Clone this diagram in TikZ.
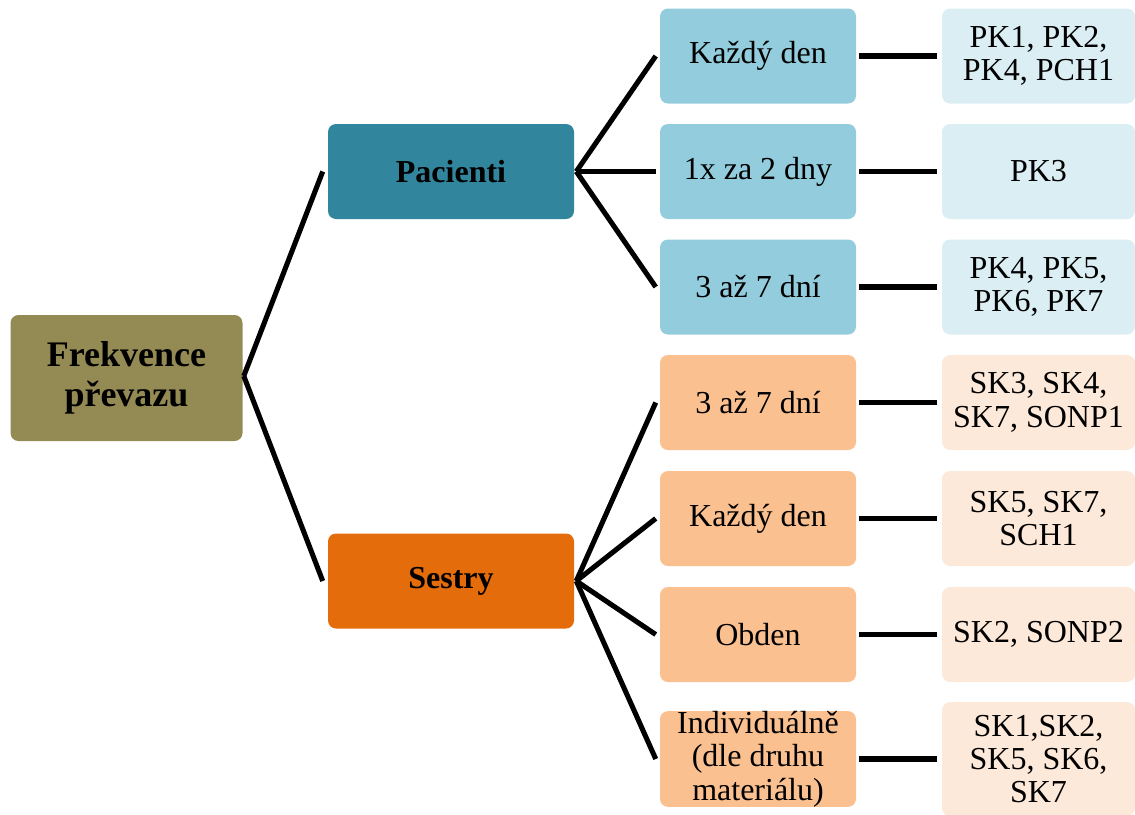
\documentclass[tikz,border=0pt]{standalone}
\usepackage{fontspec}
\setmainfont{Liberation Serif}
\usetikzlibrary{calc}
\definecolor{rootc}{HTML}{948A54}
\definecolor{pacc}{HTML}{31859C}
\definecolor{sesc}{HTML}{E46C0A}
\definecolor{bluec}{HTML}{93CDDD}
\definecolor{lbluec}{HTML}{DBEEF4}
\definecolor{orc}{HTML}{FAC090}
\definecolor{lorc}{HTML}{FDE9D9}
\tikzset{
  box/.style={rectangle, rounded corners=6pt, inner sep=0pt, align=center,
    text=black, font=\fontsize{24}{25}\selectfont},
  sz/.style 2 args={minimum width=#1*0.75pt, minimum height=#2*0.75pt},
  rootbox/.style={box, fill=rootc, sz={232}{126}, font=\fontsize{27}{30}\selectfont\bfseries},
  groupbox/.style={box, fill=#1, sz={246}{95}, font=\fontsize{24}{25}\selectfont\bfseries},
  freqbox/.style={box, fill=#1, sz={196}{95}},
  codebox/.style={box, fill=#1, sz={193}{95}},
  conn/.style={line width=3.8pt, line cap=butt, black},
}
\begin{document}
\begin{tikzpicture}[x=0.75pt,y=-0.75pt]
\useasboundingbox (0,0) rectangle (1135,814);

% root
\node[rootbox] (root) at (126.5,378) {Frekvence\\převazu};

% groups
\node[groupbox=pacc] (pac) at (451,171.5) {Pacienti};
\node[groupbox=sesc] (ses) at (451,581) {Sestry};

% frequencies - patients
\node[freqbox=bluec] (b1) at (758,56) {Každý den};
\node[freqbox=bluec] (b2) at (758,171.5) {1x za 2 dny};
\node[freqbox=bluec] (b3) at (758,287) {3 až 7 dní};
% frequencies - nurses
\node[freqbox=orc] (b4) at (758,402.5) {3 až 7 dní};
\node[freqbox=orc] (b5) at (758,518.5) {Každý den};
\node[freqbox=orc] (b6) at (758,634.5) {Obden};
\node[freqbox=orc, sz={196}{94}] (b7) at (758,759) {Individuálně\\(dle druhu\\materiálu)};

% respondent codes
\node[codebox=lbluec] (c1) at (1038.5,56) {PK1, PK2,\\PK4, PCH1};
\node[codebox=lbluec] (c2) at (1038.5,171.5) {PK3};
\node[codebox=lbluec] (c3) at (1038.5,287) {PK4, PK5,\\PK6, PK7};
\node[codebox=lorc] (c4) at (1038.5,402.5) {SK3, SK4,\\SK7, SONP1};
\node[codebox=lorc] (c5) at (1038.5,518.5) {SK5, SK7,\\SCH1};
\node[codebox=lorc] (c6) at (1038.5,634.5) {SK2, SONP2};
\node[codebox=lorc, sz={193}{114}] (c7) at (1038.5,759) {SK1,SK2,\\SK5, SK6,\\SK7};

% root to groups
\foreach \g in {pac,ses}
  \draw[conn] ($(root.east)+(1,-2)$) -- ($(\g.west)+(-5,0)$);

% groups to frequencies
\foreach \b in {b1,b2,b3}
  \draw[conn] ($(pac.east)+(2,0)$) -- ($(\b.west)+(-4,0)$);
\foreach \b in {b4,b5,b6,b7}
  \draw[conn] ($(ses.east)+(2,0)$) -- ($(\b.west)+(-4,0)$);

% frequencies to codes
\foreach \i in {1,...,7}
  \draw[conn] ($(b\i.east)+(3,0)$) -- ($(c\i.west)+(-5,0)$);
\end{tikzpicture}
\end{document}
